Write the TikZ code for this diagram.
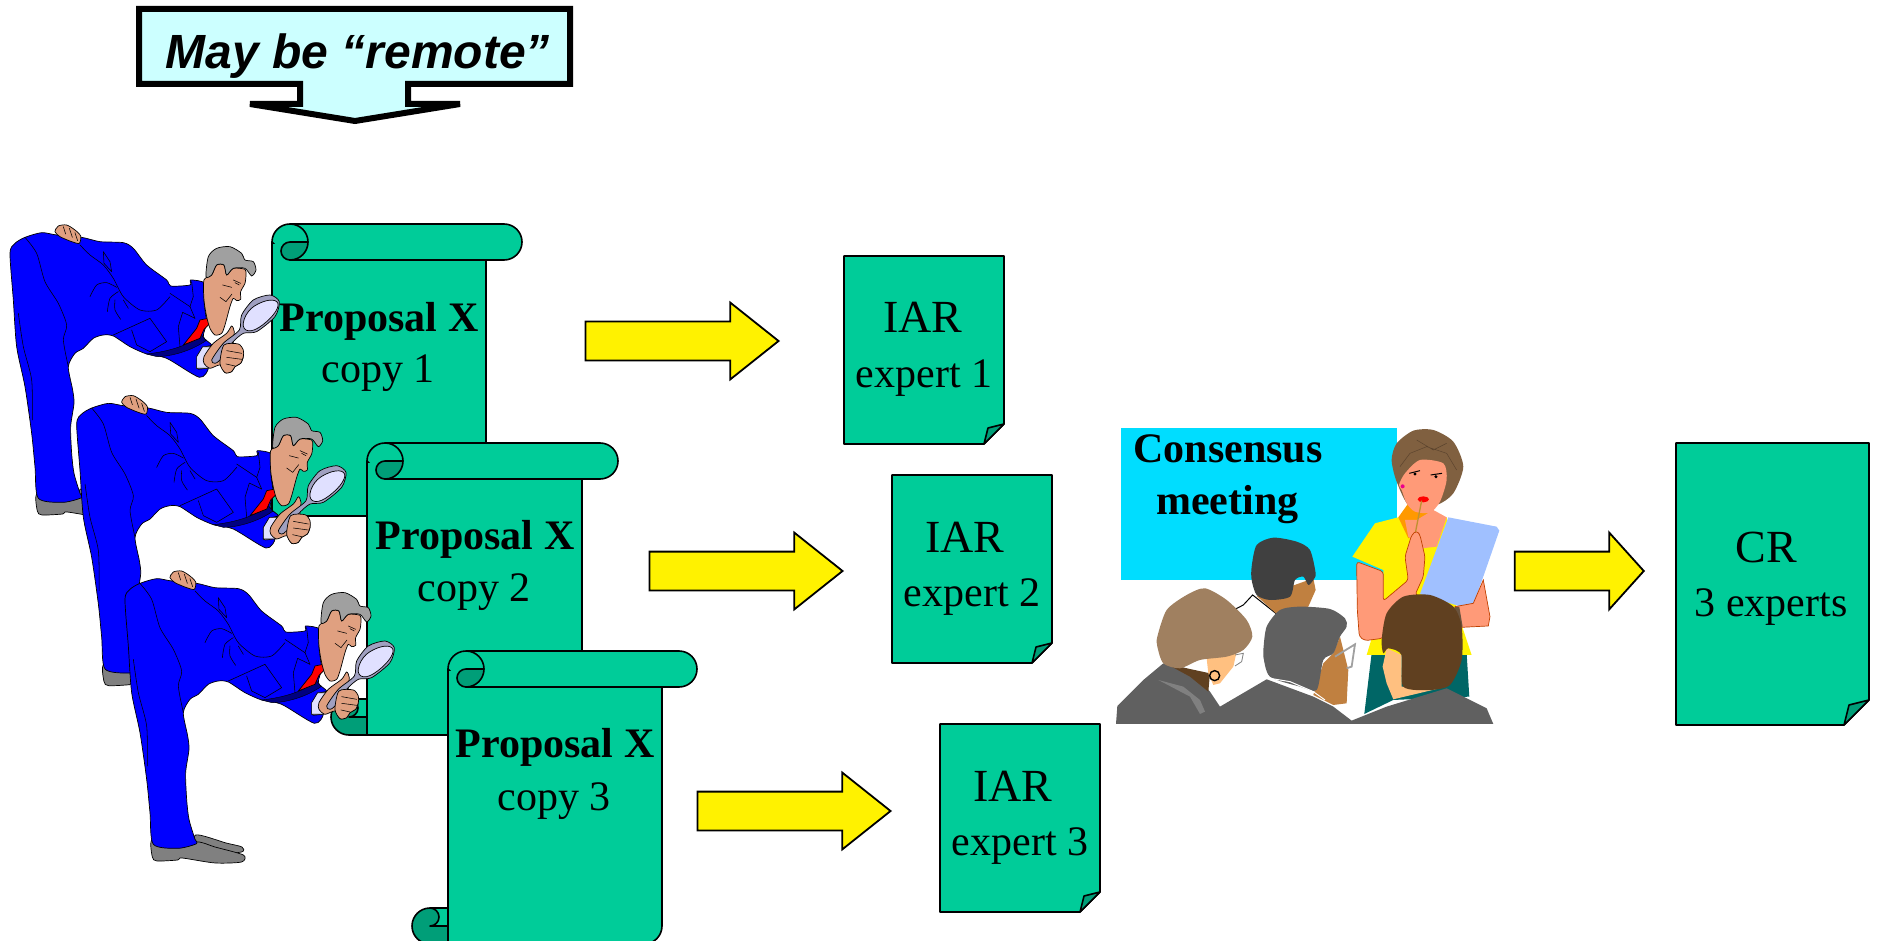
\documentclass[tikz,border=0pt]{standalone}
\usepackage{fontspec}
\setmainfont{Liberation Serif}
\newfontfamily\arialfam{Liberation Sans}
\usetikzlibrary{shapes.arrows}
\definecolor{scrollgreen}{HTML}{00CC99}
\definecolor{scrolldark}{HTML}{009E78}
\definecolor{calloutfill}{HTML}{CCFFFF}
\definecolor{suitblue}{HTML}{0000FF}
\definecolor{navytie}{HTML}{000080}
\definecolor{manskin}{HTML}{E0A080}
\definecolor{mangray}{HTML}{A0A0A0}
\definecolor{shoegray}{HTML}{808080}
\definecolor{glass}{HTML}{E0E0FF}
\definecolor{handleblue}{HTML}{A0A0C0}
\definecolor{boardcyan}{HTML}{00DDFF}
\definecolor{womanskin}{HTML}{FF9A78}
\definecolor{skinline}{HTML}{C04000}
\definecolor{hairbrown}{HTML}{806040}
\definecolor{paperblue}{HTML}{A0C0FF}
\definecolor{skirtteal}{HTML}{006666}
\definecolor{jacketgray}{HTML}{606060}
\definecolor{hairtan}{HTML}{A08060}
\definecolor{paleskin}{HTML}{FFC080}
\definecolor{darkskin}{HTML}{C08040}
\definecolor{hairdark}{HTML}{604020}
\tikzset{
  x=1pt,y=-1pt,
  outl/.style={draw=black,line width=1.6pt,line join=round},
  yarrow/.style={single arrow,draw=black,fill=yellow,line width=1.8pt,inner xsep=0pt,inner ysep=18.5pt,
     single arrow head extend=19pt,anchor=tip},
  proptitle/.style={anchor=base,font=\fontsize{42}{50}\selectfont\bfseries,inner sep=0pt},
  proptext/.style={anchor=base,font=\fontsize{42}{50}\selectfont,inner sep=0pt},
  iartext/.style={anchor=base,font=\fontsize{46}{54}\selectfont,inner sep=0pt},
  ml/.style={draw=black,line width=.55pt,line cap=round,line join=round},
  mf/.style={draw=black,line width=.7pt,line join=round},
  smo/.style={smooth,tension=.45},
  smc/.style={smooth cycle,tension=.45},
  man/.pic={
   \begin{scope}[x=.3333pt,y=-.3333pt]
    % rear shoe
    \draw[mf,fill=shoegray] plot[smc] coordinates {(242,867)(333,891)(381,903)(380,918)(300,925)(240,925)};
    % front shoe
    \draw[mf,fill=shoegray] plot[smc] coordinates {(112,880)(112,933)(126,945)(189,942)(201,936)(300,951)(380,948)(385,927)(300,903)(252,888)(190,890)};
    % suit
    \draw[mf,fill=suitblue] plot[smc] coordinates {(30,160)(45,130)(75,112)(125,98)(170,105)(245,112)(300,125)(370,128)(400,145)(440,195)(500,240)(512,258)(570,255)(572,240)(615,250)(612,300)(618,350)(622,365)(610,410)(635,435)(610,445)(590,505)(625,505)(598,532)(500,475)(440,462)(390,440)(340,408)(310,405)(280,415)(250,445)(225,460)(205,500)(218,570)(222,610)(212,680)(215,760)(222,820)(240,880)(245,893)(190,907)(115,895)(105,800)(95,700)(75,560)(50,440)(40,300)};
    % tie and shadow
    \fill[navytie,draw=black,line width=.4pt] (440,462) .. controls (500,455) and (560,440) .. (605,405) -- (618,422) .. controls (570,455) and (510,470) .. (470,470) -- cycle;
    \draw[mf,fill=red] (600,360) -- (625,355) -- (628,372) -- (612,388) -- (600,415) -- (550,435) -- (590,385) -- cycle;
    % creases
    \draw[ml] plot[smo] coordinates {(75,112)(110,160)(135,245)(175,310)(200,375)(190,420)(205,500)};
    \draw[ml] plot[smo] coordinates {(55,340)(70,440)(95,540)(97,660)};
    \draw[ml] plot[smo] coordinates {(510,290)(470,330)(420,330)(370,290)(340,235)(310,195)(270,165)(240,135)};
    \draw[ml] plot[smo] coordinates {(270,290)(290,255)(320,248)(350,262)};
    \draw[ml] plot[smo] coordinates {(322,335)(330,295)(355,275)};
    \draw[ml] plot[smo] coordinates {(345,300)(345,330)(362,358)};
    \draw[ml] (370,300) -- (385,325);
    \draw[ml] (310,155) -- (330,185) -- (335,215) -- (312,190) -- cycle;
    \draw[ml] (340,405) -- (450,355) -- (500,425) -- (450,455) -- (410,435) -- (395,390);
    \draw[ml] (510,280) -- (570,320) -- (585,355);
    \draw[ml] (585,355) -- (548,337) -- (535,380) -- (540,440);
    \draw[ml] (575,245) -- (580,290) -- (570,320);
    % back hand
    \draw[mf,fill=manskin] plot[smc] coordinates {(165,95)(175,78)(200,75)(225,90)(242,108)(238,130)(215,125)(180,110)};
    \draw[ml] (190,80) -- (197,102) (208,85) -- (217,112) (225,98) -- (233,122);
    % face
    \draw[mf,fill=manskin] plot[smc] coordinates {(612,240)(612,300)(620,350)(630,385)(645,405)(665,400)(675,375)(690,320)(700,295)(710,302)(722,298)(722,275)(735,250)(738,225)(735,208)(700,205)(680,225)(672,195)(650,195)(635,225)};
    \draw[ml] (700,240) -- (722,250) (705,248) -- (718,255);
    \draw[ml] (660,292) -- (678,305) -- (696,282);
    \draw[ml] (668,255) -- (695,262);
    % hair
    \draw[mf,fill=mangray] plot[smc] coordinates {(618,230)(625,170)(650,145)(690,140)(725,160)(735,180)(760,185)(768,210)(755,228)(735,205)(700,205)(680,225)(672,195)(650,195)(635,225)};
    % cuff, hand and magnifier
    \draw[mf,fill=glass] (608,440) -- (590,470) -- (590,505) -- (625,505) -- (632,440) -- cycle;
    \draw[mf,fill=manskin] plot[smc] coordinates {(612,470)(640,430)(680,400)(695,378)(703,395)(700,430)(725,450)(730,470)(722,490)(705,500)(695,515)(675,518)(660,495)(630,505)(612,490)};
    \draw[mf,fill=handleblue] plot[smc] coordinates {(635,480)(670,430)(718,390)(725,345)(760,300)(810,285)(838,305)(825,350)(770,395)(730,400)(695,430)(660,480)(645,490)};
    \draw[mf,fill=glass] plot[smooth cycle,tension=.7] coordinates {(730,378)(745,335)(785,307)(825,302)(832,325)(800,365)(755,392)};
    \draw[mf,fill=manskin] plot[smc] coordinates {(672,435)(715,432)(730,450)(730,470)(722,490)(705,500)(695,515)(675,518)(660,490)};
    \draw[ml] (680,452) -- (725,460) (680,472) -- (725,478) (678,492) -- (705,498);
   \end{scope}
  }
}
% \scrollshape{left}{top}{band right}{body right}{bottom}
% the picture's y axis points down, so an arc angle of -90 is the top of the circle
\newcommand{\scrollshape}[5]{%
  % bottom curl, dark circle
  \draw[outl,fill=scrolldark] (#1-18,#5-36) arc[start angle=-90,end angle=-270,radius=18] -- (#1,#5) -- (#1,#5-36) -- cycle;
  % body
  \draw[outl,fill=scrollgreen] (#1,#5) -- (#4-18,#5) arc[start angle=90,end angle=0,radius=18] -- (#4,#2+18) -- (#1,#2+18) -- cycle;
  % light flap of the bottom curl
  \draw[outl,fill=scrollgreen] (#1,#5-36) -- (#1-18,#5-36) arc[start angle=-90,end angle=90,radius=9] -- (#1,#5-18);
  % top band
  \draw[outl,fill=scrollgreen] (#1,#2+18) arc[start angle=-180,end angle=-90,radius=18] -- (#3-18,#2) arc[start angle=-90,end angle=90,radius=18] -- (#1+18,#2+36) -- cycle;
  % left edge redrawn, hides nothing else
  \fill[scrollgreen] (#1+1,#2+20) rectangle (#1+17,#2+40);
  \draw[outl] (#1,#2+18) -- (#1,#5);
  % dark inner curl of the top
  \draw[outl,fill=scrolldark] (#1+36,#2+18) -- (#1+18,#2+18) arc[start angle=-90,end angle=-270,radius=9] arc[start angle=90,end angle=0,radius=18];
  \draw[outl] (#1+36,#2+18) arc[start angle=0,end angle=-90,radius=18];
}
% \docshape{left}{top}{right}{bottom}{fold}
\newcommand{\docshape}[5]{%
  \draw[outl,fill=scrollgreen] (#1,#2) -- (#3,#2) -- (#3,#4-#5) -- (#3-#5,#4) -- (#1,#4) -- cycle;
  \draw[outl,fill=scrolldark] (#3-#5,#4) -- (#3-.8*#5,#4-.8*#5) -- (#3,#4-#5) -- cycle;
}
\begin{document}
\begin{tikzpicture}
\useasboundingbox (0,0) rectangle (1877,941);
% callout
\draw[line width=6pt,miter limit=10,line join=miter,fill=calloutfill] (139,9) -- (570,9) -- (570,84) -- (408,84) -- (408,104) -- (460,104) -- (355,121) -- (250,104) -- (300,104) -- (300,84) -- (139,84) -- cycle;
\node[anchor=base,inner sep=0pt,font=\arialfam\fontsize{48}{56}\selectfont\bfseries\itshape] (remote) at (358,69) {May be “remote”};
% scrolls
\scrollshape{272}{224}{522}{486}{516}
\scrollshape{367}{443}{618}{582}{735}
\scrollshape{448}{651}{697}{662}{944}
% documents
\docshape{844}{256}{1004}{444}{20}
\docshape{892}{475}{1052}{663}{20}
\docshape{940}{724}{1100}{912}{20}
\docshape{1676}{443}{1869}{725}{25}
% men
\pic at (0,200) {man};
\pic at (66.7,370.7) {man};
\pic at (115,546) {man};
% scroll text
\node[proptitle] (p1) at (379,331) {Proposal X};
\node[proptext] (c1) at (378,382) {copy 1};
\node[proptitle] (p2) at (475,549) {Proposal X};
\node[proptext] (c2) at (474,601) {copy 2};
\node[proptitle] (p3) at (555,757) {Proposal X};
\node[proptext] (c3) at (554,810) {copy 3};
% doc text
\node[iartext] (i1) at (923,333) {IAR};
\node[proptext] (e1) at (924,387) {expert 1};
\node[iartext] (i2) at (965,552) {IAR};
\node[proptext] (e2) at (972,606) {expert 2};
\node[iartext] (i3) at (1013,801) {IAR};
\node[proptext] (e3) at (1020,855) {expert 3};
\node[iartext] (cr) at (1766,562) {CR};
\node[proptext] (e4) at (1771,616) {3 experts};
% block arrows
\node[yarrow,minimum height=193pt,single arrow tip angle=77] (a1) at (780,341) {};
\node[yarrow,minimum height=193pt,single arrow tip angle=77] (a2) at (844,571) {};
\node[yarrow,minimum height=193pt,single arrow tip angle=77] (a3) at (892,811) {};
\node[yarrow,minimum height=129pt,single arrow tip angle=96] (a4) at (1645,571) {};
% consensus meeting
\begin{scope}[shift={(1100,410)},x=.3333pt,y=-.3333pt]
 \fill[boardcyan] (63,54) rectangle (890,510);
 \node[anchor=base west,inner sep=0pt,font=\fontsize{42}{50}\selectfont\bfseries] (cons) at (100,157) {Consensus};
 \node[anchor=base west,inner sep=0pt,font=\fontsize{42}{50}\selectfont\bfseries] (meet) at (168,315) {meeting};
 % presenter
 \fill[skirtteal] (815,730) -- (793,912) -- (880,870) -- (1108,860) -- (1100,730) -- cycle;
 \fill[yellow] (757,440) -- (825,340) -- (895,322) -- (1040,322) -- (1060,400) -- (1070,600) -- (1115,735) -- (800,735) -- (850,570) -- (850,480) -- cycle;
 \fill[hairbrown] plot[smc] coordinates {(875,150)(890,100)(940,62)(1000,60)(1060,95)(1090,170)(1060,250)(1010,285)(930,290)(890,215)};
 \fill[orange!80!yellow] (895,322) -- (925,280) -- (1000,300) -- (1030,350) -- (925,385) -- cycle;
 \fill[womanskin] (915,330) -- (925,380) -- (965,415) -- (1010,410) -- (1040,322) -- (1000,300) -- (950,330) -- cycle;
 \fill[womanskin] plot[smc] coordinates {(915,190)(960,150)(1030,160)(1040,210)(1020,275)(990,308)(945,305)(920,280)(905,240)(897,225)};
 \draw[hairbrown!70!black,line width=.5pt] (900,170) -- (930,130) -- (980,110) -- (1040,130) -- (1070,180) (950,90) -- (1000,120) -- (1040,100);
 \draw[black,line width=1pt] (928,190) -- (960,182) (992,195) -- (1026,190);
 \fill[black] (945,192) circle[radius=5] (1008,200) circle[radius=5];
 \fill[red] (970,268) ellipse[x radius=17,y radius=9];
 \fill[magenta] (908,229) circle[radius=6];
 \draw[color={rgb,255:red,192;green,144;blue,48},line width=1.3pt] (965,272) -- (940,400);
 \draw[skinline,line width=.7pt,fill=womanskin,rounded corners=3pt] (770,455) -- (850,485) -- (850,573) -- (925,510) -- (915,440) -- (935,375) -- (950,362) -- (960,375) -- (975,440) -- (970,500) -- (945,555) -- (1000,570) -- (880,640) -- (848,685) -- (795,692) -- (778,680) -- (772,600) -- cycle;
 \fill[paperblue] (1045,322) -- (1190,350) -- (1198,362) -- (1115,600) -- (960,552) -- cycle;
 \draw[skinline,line width=.7pt,fill=womanskin] (1150,510) -- (1170,620) -- (1165,648) -- (1085,652) -- (1065,590) -- (1120,580) -- cycle;
 \fill[hairdark!70!gray] (1063,592) -- (1078,590) -- (1088,650) -- (1075,650) -- cycle;
 % dark-haired man at the back
 \draw[black,line width=1pt] (405,598) -- (430,585) -- (458,555) -- (530,612);
 \fill[darkskin] (640,505) -- (647,540) -- (625,590) -- (530,612) -- (470,558) -- (570,530) -- cycle;
 \fill[color={rgb,255:red,64;green,64;blue,64}] plot[smc] coordinates {(455,470)(470,405)(520,383)(590,395)(630,420)(647,490)(640,510)(625,525)(610,500)(585,510)(570,560)(510,570)(470,555)(455,510)};
 % middle man
 \fill[darkskin] (720,680) -- (745,780) -- (740,880) -- (700,885) -- (640,855) -- (670,760) -- (700,730) -- cycle;
 \fill[jacketgray] plot[smc] coordinates {(490,720)(500,650)(540,600)(600,590)(690,597)(735,625)(740,650)(720,680)(700,730)(670,750)(650,840)(600,830)(510,800)(490,740)};
 \draw[mangray,line width=1.8pt] (705,740) -- (765,703) -- (755,770) -- (740,775);
 % right man skin and jackets
 \fill[paleskin] (848,770) -- (860,715) -- (905,735) -- (905,830) -- (1040,830) -- (880,868) -- (860,820) -- cycle;
 \fill[jacketgray] (48,942) -- (52,888) -- (130,810) -- (190,760) -- (260,775) -- (330,845) -- (360,890) -- (500,808) -- (640,860) -- (700,890) -- (755,932) -- (860,890) -- (1040,835) -- (1160,895) -- (1180,942) -- cycle;
 \fill[color={rgb,255:red,128;green,128;blue,128}] (175,810) -- (250,830) -- (300,870) -- (315,905) -- (300,912) -- (270,860) -- cycle;
 \draw[white,line width=1pt] (510,805) -- (570,815) -- (640,845) -- (675,870);
 \fill[hairdark] plot[smc] coordinates {(845,690)(860,610)(910,560)(990,555)(1060,590)(1085,650)(1085,750)(1050,825)(990,840)(910,830)(905,735)(865,715)(850,730)};
 % woman listener
 \fill[hairdark] (200,762) -- (330,790) -- (325,845) -- (270,800) -- cycle;
 \fill[paleskin] (320,745) -- (410,725) -- (400,770) -- (360,820) -- (340,825) -- (325,790) -- cycle;
 \draw[gray,line width=.8pt] (405,735) -- (430,730) -- (425,755) -- (405,768);
 \fill[hairtan] plot[smc] coordinates {(172,680)(200,600)(260,555)(315,535)(380,570)(440,630)(457,680)(430,720)(380,740)(300,750)(240,775)(190,760)(172,710)};
 \draw[black,line width=1.4pt] (344,797) circle[radius=15];
\end{scope}
\end{tikzpicture}
\end{document}
